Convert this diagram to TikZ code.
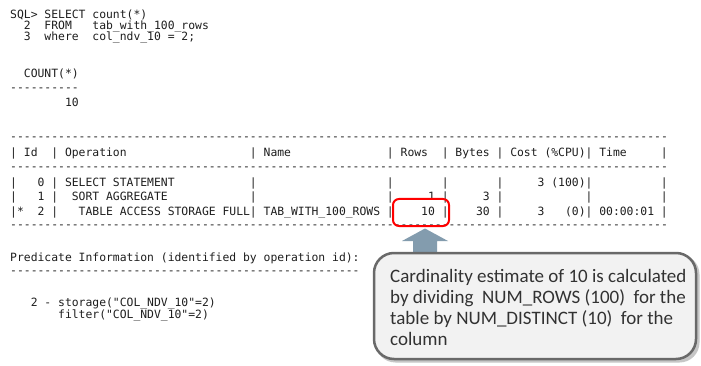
\documentclass[tikz,border=0pt]{standalone}
\usepackage{fontspec}
\setmonofont{DejaVu Sans Mono}
\newfontfamily\calfont{Carlito}
\ExplSyntaxOn
\cs_new:Npn \reprow #1 {\prg_replicate:nn{#1}{-}}
\ExplSyntaxOff
\definecolor{arrowc}{RGB}{131,156,174}
\definecolor{calfill}{RGB}{242,242,242}
\definecolor{calborder}{RGB}{105,105,105}
\definecolor{caltext}{RGB}{50,50,50}
\definecolor{monotext}{RGB}{30,30,30}
\newcommand\mt[4]{\node[mono] (#1) at ({10+#2*6.85},#3) {#4};}
\newcommand\ct[3]{\node[calline] (#1) at (390,#2) {#3};}
\begin{document}
\begin{tikzpicture}[x=1pt,y=-1pt,
  mono/.style={anchor=base west, inner sep=0pt, text=monotext,
    font=\ttfamily\frenchspacing\fontsize{11.38}{13}\selectfont},
  calline/.style={anchor=base west, inner sep=0pt, text=caltext,
    font=\calfont\fontsize{19}{21}\selectfont},
  redbox/.style={draw=red, line width=2pt, rounded corners=6pt,
    minimum width=56pt, minimum height=27pt, inner sep=0pt},
  callbox/.style={draw=calborder, fill=calfill, line width=2.5pt,
    rounded corners=20pt, minimum width=322pt, minimum height=106pt, inner sep=0pt}]
\useasboundingbox (0,0) rectangle (701,366);
\fill[white] (0,0) rectangle (701,366);

% SQL query
\mt{s1}{0}{19}{SQL> SELECT count(*)}
\mt{s2a}{2}{30}{2}
\mt{s2b}{5}{30}{FROM}
\mt{s2c}{12}{30}{tab\_with\_100\_rows}
\mt{s3a}{2}{41}{3}
\mt{s3b}{5}{41}{where}
\mt{s3c}{12}{41}{col\_ndv\_10 = 2;}
\mt{c1}{2}{78}{COUNT(*)}
\mt{c2}{0}{91.5}{\reprow{10}}
\mt{c3}{8}{107}{10}

% plan table
\mt{d1}{0}{140.5}{\reprow{96}}
\mt{h0}{0}{157}{| Id}
\mt{h1}{6}{157}{| Operation}
\mt{h2}{35}{157}{| Name}
\mt{h3}{55}{157}{| Rows}
\mt{h4}{63}{157}{| Bytes}
\mt{h5}{71}{157}{| Cost (\%CPU)}
\mt{h6}{84}{157}{| Time}
\mt{h7}{95}{157}{|}
\mt{d2}{0}{170.5}{\reprow{96}}

\mt{a0}{0}{187}{|}
\mt{a1}{4}{187}{0}
\mt{a2}{6}{187}{| SELECT STATEMENT}
\mt{a3}{35}{187}{|}
\mt{a4}{55}{187}{|}
\mt{a5}{63}{187}{|}
\mt{a6}{71}{187}{|}
\mt{a7}{77}{187}{3 (100)}
\mt{a8}{84}{187}{|}
\mt{a9}{95}{187}{|}

\mt{b0}{0}{200.5}{|}
\mt{b1}{4}{200.5}{1}
\mt{b2}{6}{200.5}{|}
\mt{b3}{9}{200.5}{SORT AGGREGATE}
\mt{b4}{35}{200.5}{|}
\mt{b5}{55}{200.5}{|}
\mt{b6}{61}{200.5}{1}
\mt{b7}{63}{200.5}{|}
\mt{b8}{69}{200.5}{3}
\mt{b9}{71}{200.5}{|}
\mt{b10}{84}{200.5}{|}
\mt{b11}{95}{200.5}{|}

\mt{e0}{0}{215}{|*}
\mt{e1}{4}{215}{2}
\mt{e2}{6}{215}{|}
\mt{e3}{10}{215}{TABLE ACCESS STORAGE FULL}
\mt{e4}{35}{215}{| TAB\_WITH\_100\_ROWS}
\mt{e5}{55}{215}{|}
\mt{e6}{60}{215}{10}
\mt{e7}{63}{215}{|}
\mt{e8}{68}{215}{30}
\mt{e9}{71}{215}{|}
\mt{e10}{77}{215}{3}
\mt{e11}{81}{215}{(0)}
\mt{e12}{84}{215}{| 00:00:01}
\mt{e13}{95}{215}{|}
\mt{d3}{0}{228}{\reprow{96}}

% predicate information
\mt{p1}{0}{261}{Predicate Information (identified by operation id):}
\mt{p2}{0}{274.5}{\reprow{51}}
\mt{p3}{3}{306}{2 - storage("COL\_NDV\_10"=2)}
\mt{p4}{7}{318}{filter("COL\_NDV\_10"=2)}

% highlight of the estimate
\node[redbox] (rbox) at (421,212.5) {};

% block arrow from the callout up to the highlight
\coordinate (atip) at (425,228.5);
\fill[arrowc] (atip) -- ++(23,12.5) -- ++(-11,0) -- ++(0,15) -- ++(-24,0)
  -- ++(0,-15) -- ++(-11,0) -- cycle;

% callout
\fill[gray!45, rounded corners=20pt] (375.5,254.5) rectangle (699.5,362.5);
\node[callbox] (callout) at (535,306) {};
\ct{t1}{282}{Cardinality estimate of 10 is calculated}
\ct{t2}{303}{by dividing~~NUM\_ROWS (100)~~for the}
\ct{t3}{324}{table by NUM\_DISTINCT (10)~~for the}
\ct{t4}{345}{column}
\end{tikzpicture}
\end{document}
